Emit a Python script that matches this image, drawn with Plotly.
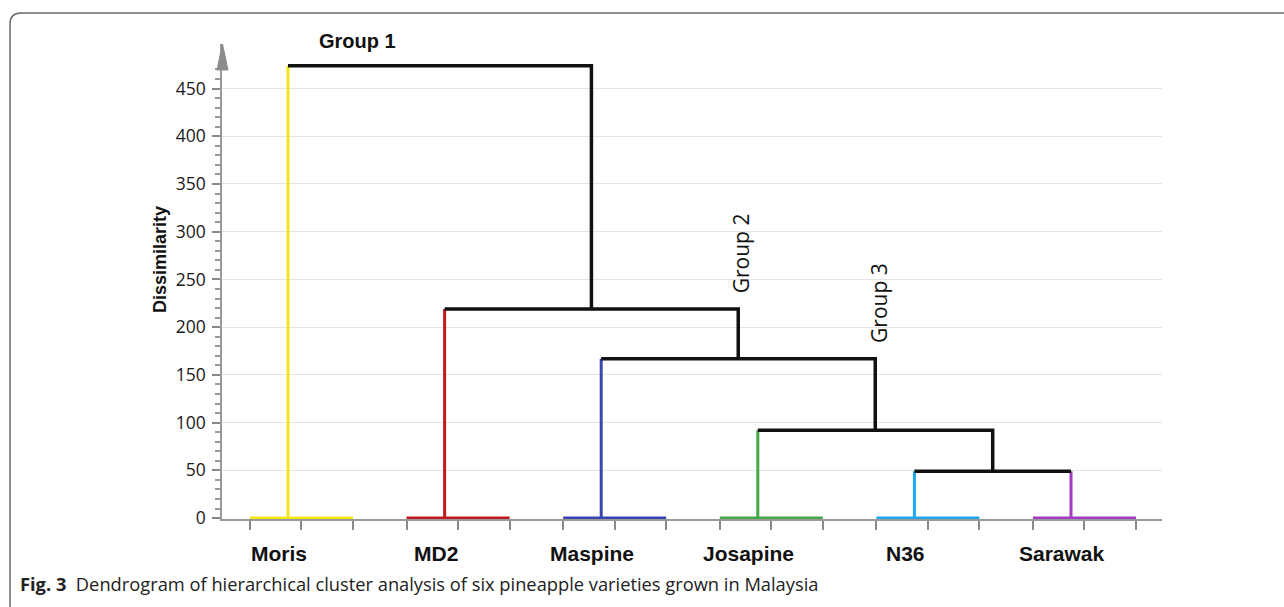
import plotly.graph_objects as go

# Leaves in dendrogram order and their branch colours
leaves = ["Moris", "MD2", "Maspine", "Josapine", "N36", "Sarawak"]
leaf_colors = ["#f6e514", "#c01a1a", "#3a46b0", "#46a846", "#1ea7ee", "#a23cc2"]

# Agglomeration steps: (left child, right child, dissimilarity).
# Children 0-5 are leaves; 6+ are the nodes created by earlier steps.
merges = [
    (4, 5, 49),
    (3, 6, 92),
    (2, 7, 167),
    (1, 8, 219),
    (0, 9, 474),
]

# Labels hung on the upper nodes (node id, text)
group_labels = [(10, "Group 1"), (8, "Group 2"), (7, "Group 3")]

y_ticks = list(range(0, 451, 50))
y_minor = [v for v in range(10, 471, 10) if v % 50]

caption_bold = "Fig. 3"
caption_text = "Dendrogram of hierarchical cluster analysis of six pineapple varieties grown in Malaysia"

# ---- figure geometry (pixels) ----
W, H = 1284, 607
L, R, T, B = 222, 1162, 44, 519


def paper(px, py):
    return (px - L) / (R - L), (B - py) / (B - T)


# ---- node positions ----
pos = {i: float(i) for i in range(len(leaves))}
height = {i: 0.0 for i in range(len(leaves))}
for k, (a, b, h) in enumerate(merges):
    nid = len(leaves) + k
    pos[nid] = (pos[a] + pos[b]) / 2
    height[nid] = h

fig = go.Figure()

# leaf base segments and leaf stems in the leaf colour
seg_lo, seg_hi = -0.243, 0.415
for i, name in enumerate(leaves):
    top = next(h for a, b, h in merges if a == i or b == i)
    fig.add_trace(go.Scatter(
        x=[pos[i] + seg_lo, pos[i] + seg_hi, None, pos[i], pos[i]],
        y=[0, 0, None, 0, top],
        mode="lines", line=dict(color=leaf_colors[i], width=3),
        hoverinfo="skip", showlegend=False))

# black links between clusters
bx, by = [], []
for a, b, h in merges:
    xs, ys = [], []
    if a >= len(leaves):
        xs.append(pos[a]); ys.append(height[a])
    xs += [pos[a], pos[b]]; ys += [h, h]
    if b >= len(leaves):
        xs.append(pos[b]); ys.append(height[b])
    bx += xs + [None]; by += ys + [None]
fig.add_trace(go.Scatter(x=bx, y=by, mode="lines",
                         line=dict(color="#111111", width=3.5),
                         hoverinfo="skip", showlegend=False))

# ---- annotations ----
ann = []
for i, name in enumerate(leaves):
    ann.append(dict(x=pos[i], y=paper(0, 553)[1], xref="x", yref="paper",
                    text=f"<b>{name}</b>", showarrow=False, xshift=-9,
                    xanchor="center", yanchor="middle",
                    font=dict(family="Liberation Sans Narrow, Liberation Sans", size=21, color="#111")))

root = len(leaves) + len(merges) - 1
for nid, text in group_labels:
    if nid == root:
        ann.append(dict(x=pos[0], y=height[nid], xref="x", yref="y",
                        text=f"<b>{text}</b>", showarrow=False,
                        xanchor="left", yanchor="bottom", xshift=29, yshift=12,
                        font=dict(family="Liberation Sans", size=20, color="#111")))
    else:
        # label sits just above the right end of the parent's bar
        parent_h = next(h for a, b, h in merges if a == nid or b == nid)
        ann.append(dict(x=pos[nid], y=parent_h, xref="x", yref="y",
                        text=text, showarrow=False, textangle=-90,
                        xanchor="center", yanchor="bottom", xshift=3, yshift=14,
                        font=dict(family="Open Sans", size=21, color="#111")))

tx, ty = paper(160, 260)
ann.append(dict(x=tx, y=ty, xref="paper", yref="paper", text="<b>Dissimilarity</b>",
                textangle=-90, showarrow=False, xanchor="center", yanchor="middle",
                font=dict(family="Liberation Sans", size=18, color="#111")))

cx, cy = paper(18, 583)
ann.append(dict(x=cx, y=cy, xref="paper", yref="paper", xanchor="left", yanchor="middle",
                text=f"<b>{caption_bold}</b>  {caption_text}", showarrow=False,
                font=dict(family="Open Sans", size=18.3, color="#222")))

# ---- shapes: frame and axis arrow ----
def pp(px, py):
    x, y = paper(px, py)
    return f"{x:.5f},{y:.5f}"


frame = f"M {pp(10, 612)} L {pp(10, 24)} Q {pp(10, 13)} {pp(21, 13)} L {pp(1290, 13)}"
arrow = f"M {pp(222.5, 44)} L {pp(228, 70)} L {pp(217, 70)} Z"
shapes = [
    dict(type="path", path=frame, xref="paper", yref="paper",
         line=dict(color="#6a6a6a", width=1.5)),
    dict(type="path", path=arrow, xref="paper", yref="paper",
         fillcolor="#8c8c8c", line=dict(color="#8c8c8c", width=1)),
]

px_per_unit = (519 - 89.5) / 450
y_top = -1 + (B - T) / px_per_unit

fig.update_layout(
    width=W, height=H,
    margin=dict(l=L, r=W - R, t=T, b=H - B, pad=0),
    paper_bgcolor="white", plot_bgcolor="white",
    annotations=ann, shapes=shapes,
    xaxis=dict(range=[-0.4215, 5.581], showgrid=False, zeroline=False,
               showline=True, linecolor="#999999", linewidth=1.5,
               ticks="outside", ticklen=9, tickwidth=1.5, tickcolor="#888888",
               tickvals=[pos[i] + o for i in range(len(leaves)) for o in (seg_lo, (seg_lo + seg_hi) / 2, seg_hi)],
               showticklabels=False, fixedrange=True),
    yaxis=dict(range=[-1, y_top], tickvals=y_ticks, showgrid=True,
               gridcolor="#e4e4e4", gridwidth=1, zeroline=False,
               showline=True, linecolor="#999999", linewidth=1.5,
               ticks="outside", ticklen=8, tickwidth=1.5, tickcolor="#888888",
               minor=dict(tickvals=y_minor, ticklen=5, tickwidth=1.5,
                          tickcolor="#999999", showgrid=False),
               tickfont=dict(family="Open Sans", size=17.5, color="#1a1a1a"),
               ticklabelstandoff=3, fixedrange=True),
)

fig.write_html("out.html")
